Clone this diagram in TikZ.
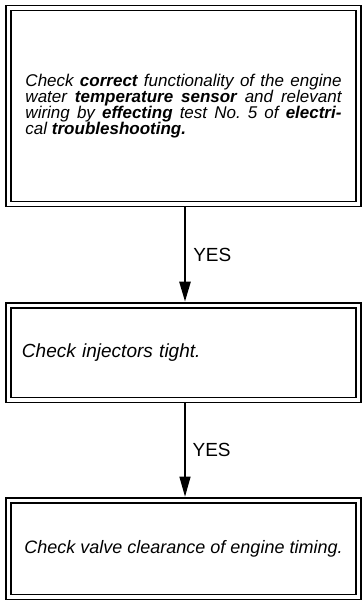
\documentclass[tikz,border=0pt]{standalone}
\usepackage{fontspec}
\setmainfont{Liberation Sans}
\usetikzlibrary{arrows.meta}

\begin{document}
\begin{tikzpicture}[x = 1bp, y = -1bp,
    checkbox/.style = {draw, double, line width = 1.6bp, double distance = 3.5bp,
      inner sep = 0pt, minimum width = 349.5bp},
    flowarrow/.style = {-{Triangle[length = 20bp, width = 11bp]},
      shorten < = 2bp, shorten > = 3bp},
    yeslabel/.style = {right = 7bp, inner sep = 0pt,
      font = \fontsize{19bp}{19bp}\selectfont}]
    \useasboundingbox (0, 0) rectangle (361, 602);

    \node[checkbox, minimum height = 196bp, text width = 316bp, align = justify,
      font = \fontsize{17bp}{16bp}\selectfont\itshape] (sensor) at (183.5, 106)
      {Check \textbf{correct} functionality of the engine\linebreak
       water \textbf{temperature sensor} and relevant\linebreak
       wiring by \textbf{effecting} test No.\ 5 of \textbf{electri-}\linebreak
       cal \textbf{troubleshooting.}\par\vspace{6bp}};

    \node[checkbox, minimum height = 94.5bp, text width = 323bp, align = left,
      font = \fontsize{19bp}{19bp}\selectfont\itshape] (inject) at (183.5, 352.75)
      {Check injectors tight.};

    \node[checkbox, minimum height = 96.5bp,
      font = \fontsize{18bp}{18bp}\selectfont\itshape] (valve) at (183.5, 548.75)
      {Check valve clearance of engine timing.};

    \draw[flowarrow, line width = 2.5bp] ([xshift = 1.5bp] sensor.south)
      -- ([xshift = 1.5bp] inject.north) node[yeslabel, midway] (yes1) {YES};
    \draw[flowarrow, line width = 1.3bp] ([xshift = 1.5bp] inject.south)
      -- ([xshift = 1.5bp] valve.north) node[yeslabel, midway] (yes2) {YES};
\end{tikzpicture}
\end{document}
